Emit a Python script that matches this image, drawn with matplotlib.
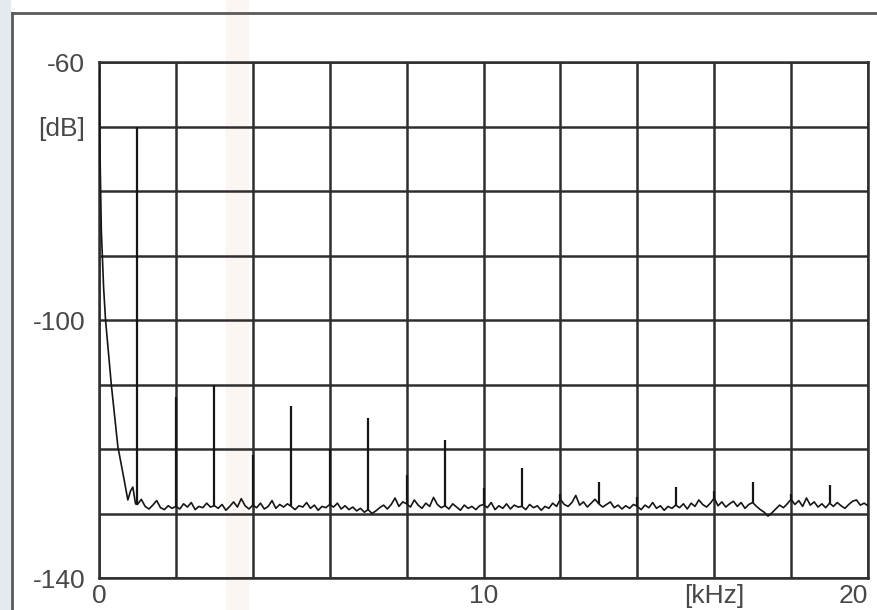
import numpy as np
import matplotlib.pyplot as plt
from matplotlib.lines import Line2D
from matplotlib.patches import Rectangle

plt.rcParams['font.family'] = ['Liberation Sans', 'DejaVu Sans']

# low frequency roll-off (kHz, dB)
lf_khz = [0.0, 0.02, 0.06, 0.12, 0.17, 0.32, 0.49, 0.62, 0.75, 0.82, 0.88, 0.95]
lf_db = [-61.0, -72.0, -86.0, -95.0, -100.0, -110.0, -119.6, -123.7, -127.9, -126.5, -125.9, -128.5]

# noise floor, 1.0 .. 20.0 kHz in 0.1 kHz steps
floor_start = 1.0
floor_step = 0.1
floor_db = [
    -128.6, -127.8, -128.9, -129.3, -128.7, -128.0, -129.1, -129.4, -128.8, -129.2,
    -128.9, -129.3, -128.5, -129.0, -128.3, -129.4, -128.9, -129.1, -128.4, -129.0,
    -128.8, -129.2, -128.6, -129.5, -128.9, -128.2, -129.0, -127.7, -128.8, -129.3,
    -128.7, -129.1, -128.4, -129.3, -128.9, -128.0, -129.2, -128.6, -129.0, -128.5,
    -128.9, -129.4, -128.8, -129.0, -128.3, -129.2, -128.7, -129.5, -128.9, -129.1,
    -128.6, -129.0, -128.4, -129.3, -128.8, -129.4, -129.0, -129.6, -129.2, -129.8,
    -129.4, -130.0, -129.6, -129.1, -128.7, -129.3, -128.6, -127.6, -128.9, -128.2,
    -128.5, -129.0, -127.9, -128.7, -129.2, -128.4, -128.9, -127.5, -128.6, -129.1,
    -128.8, -129.3, -128.5, -129.0, -129.5, -128.7, -129.2, -128.9, -129.4, -128.8,
    -128.6, -129.1, -128.3, -129.4, -128.8, -129.2, -128.5, -129.3, -128.7, -129.0,
    -128.9, -129.4, -128.6, -129.1, -128.8, -129.5, -128.9, -129.2, -128.4, -128.9,
    -127.8, -128.6, -128.9, -128.3, -127.2, -128.7, -128.2, -129.0, -128.4, -127.8,
    -128.5, -129.0, -128.6, -128.2, -129.1, -128.7, -129.3, -128.8, -129.2, -128.6,
    -128.9, -129.4, -128.7, -129.1, -128.3, -129.2, -128.8, -129.5, -128.9, -129.2,
    -128.7, -129.1, -128.5, -129.3, -128.4, -128.9, -127.9, -128.6, -129.0, -128.4,
    -127.6, -128.8, -128.2, -129.0, -128.5, -128.1, -128.9, -128.3, -129.2, -128.6,
    -128.3, -128.9, -129.4, -129.8, -130.4, -129.9, -129.3, -128.7, -129.1, -128.5,
    -127.8, -128.6, -128.0, -128.9, -127.6, -128.7, -128.2, -129.0, -128.5, -129.1,
    -128.4, -128.9, -128.3, -128.8, -129.2, -128.6, -128.1, -127.9, -128.7, -128.4,
    -128.8,
]

# harmonic peaks
harm_khz = [1, 2, 3, 4, 5, 6, 7, 8, 9, 10, 11, 12, 13, 14, 15, 16, 17, 18, 19]
harm_db = [-70.0, -112.0, -110.0, -121.0, -113.3, -120.0, -115.2, -124.0, -118.6, -126.0,
           -122.9, -127.0, -125.1, -127.5, -125.9, -126.5, -125.1, -127.0, -125.6]

x_ticks = [0, 2, 4, 6, 8, 10, 12, 14, 16, 18, 20]
x_labels = ['0', '', '', '', '', '10', '', '', '[kHz]', '', '20']
y_ticks = [-140, -130, -120, -110, -100, -90, -80, -70, -60]
y_labels = ['-140', '', '', '', '-100', '', '', '[dB]', '-60']

floor_khz = floor_start + floor_step * np.arange(len(floor_db))
khz = np.concatenate([lf_khz, floor_khz])
db = np.concatenate([lf_db, floor_db])

fig = plt.figure(figsize=(8.77, 6.10), dpi=100)

# scan frame and faint background tints
fig.add_artist(Rectangle((0, 0), 10 / 877, 1, transform=fig.transFigure,
                         color='#e3ebf0', zorder=0))
fig.add_artist(Rectangle((226 / 877, 0), 22 / 877, 1, transform=fig.transFigure,
                         color='#fcf6f3', zorder=0))
fig.add_artist(Line2D([12 / 877, 12 / 877], [0, 1 - 13 / 610], transform=fig.transFigure,
                      color='#5a5a5a', lw=2))
fig.add_artist(Line2D([12 / 877, 1], [1 - 13 / 610, 1 - 13 / 610], transform=fig.transFigure,
                      color='#5a5a5a', lw=2))

ax = fig.add_axes([99 / 877, 1 - 578 / 610, 769 / 877, 516 / 610])
ax.patch.set_alpha(0)

floor_at_harm = [floor_db[int(round((f - floor_start) / floor_step))] for f in harm_khz]
ax.plot(khz, db, color='#161616', lw=1.2, zorder=3)
ax.vlines(harm_khz, floor_at_harm, harm_db, color='#161616', lw=1.6, zorder=3)

ax.set_xlim(0, 20)
ax.set_ylim(-140, -60)
ax.set_xticks(x_ticks)
ax.set_xticklabels(x_labels)
ax.set_yticks(y_ticks)
ax.set_yticklabels(y_labels)
ax.get_xticklabels()[-1].set_ha('right')

ax.set_axisbelow(True)
ax.grid(color='#2e2e2e', lw=1.8)
for s in ax.spines.values():
    s.set_color('#2e2e2e')
    s.set_linewidth(1.8)
ax.tick_params(axis='both', length=0, labelsize=19, colors='#484848')
ax.tick_params(axis='x', pad=4)
ax.tick_params(axis='y', pad=10)

fig.savefig('out.png', dpi=100)
plt.close()
